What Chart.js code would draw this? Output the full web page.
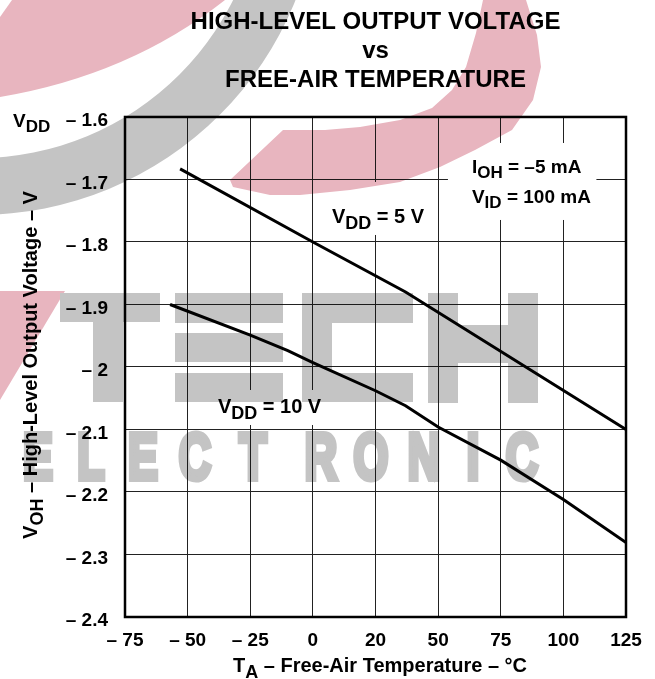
<!DOCTYPE html>
<html>
<head>
<meta charset="utf-8">
<script src="https://cdn.jsdelivr.net/npm/chart.js@4.4.0/dist/chart.umd.min.js"></script>
<style>
    html, body { margin: 0; padding: 0; background: #fff; }
    #wrap { width: 655px; height: 679px; }
</style>
</head>
<body>
<div id="wrap"><canvas id="vohChart" width="655" height="679"></canvas></div>
<script>
// Curve readings (temperature in °C, VOH in V relative to VDD)
const vdd5Temp = [-53, 0, 37, 125];
const vdd5Voh = [-1.683, -1.8, -1.88, -2.1];
const vdd10Temp = [-57, -25, -10, 0, 25, 37, 50, 75, 100, 125];
const vdd10Voh = [-1.9, -1.949, -1.974, -1.993, -2.038, -2.062, -2.096, -2.149, -2.212, -2.281];

// Tick labels as printed (the 25 °C line is labelled "20" in the original)
const xTickLabels = ['– 75', '– 50', '– 25', '0', '20', '50', '75', '100', '125'];
const yTickLabels = ['– 2.4', '– 2.3', '– 2.2', '– 2.1', '– 2', '– 1.9', '– 1.8', '– 1.7', '– 1.6'];

const FONT = 'Liberation Sans, Arial, Helvetica, sans-serif';
const PINK = 'rgb(232,181,191)';
const GRAY = 'rgb(196,196,196)';

// Text notes inside the plot, anchored in data units
const notes = [
    { parts: [['V'], ['DD', true], [' = 5 V']], at: [7.6, -1.7696], size: 20, box: [7, 41, 6, 12] },
    { parts: [['V'], ['DD', true], [' = 10 V']], at: [-37.9, -2.0736], size: 20, box: [8, 23, 7, 12] },
    { parts: [['I'], ['OH', true], [' = –5 mA']], at: [63.5, -1.6896], size: 19, box: [24, 30, 15, 17] },
    { parts: [['V'], ['ID', true], [' = 100 mA']], at: [63.5, -1.7376], size: 19, box: [24, 18, 7, 17] }
];

function toPoints(xs, ys) {
    return xs.map((x, i) => ({ x: x, y: ys[i] }));
}

// Draw text with subscript pieces
function drawRich(ctx, parts, x, y, size, align) {
    const subSize = size - 2;
    const widths = parts.map(([t, sub]) => {
        ctx.font = `bold ${sub ? subSize : size}px ${FONT}`;
        return ctx.measureText(t).width;
    });
    const total = widths.reduce((a, b) => a + b, 0);
    let cx = align === 'center' ? x - total / 2 : x;
    ctx.textAlign = 'left';
    ctx.textBaseline = 'alphabetic';
    parts.forEach(([t, sub], i) => {
        ctx.font = `bold ${sub ? subSize : size}px ${FONT}`;
        ctx.fillText(t, cx, y + (sub ? size * 0.28 : 0));
        cx += widths[i];
    });
    return total;
}

function measureRich(ctx, parts, size) {
    return parts.reduce((w, [t, sub]) => {
        ctx.font = `bold ${sub ? size - 2 : size}px ${FONT}`;
        return w + ctx.measureText(t).width;
    }, 0);
}

// Background logo of the source site, painted once on its own layer
function buildWatermark(w, h) {
    const layer = document.createElement('canvas');
    layer.width = w;
    layer.height = h;
    const ctx = layer.getContext('2d');

    // gray swoosh
    ctx.fillStyle = GRAY;
    ctx.beginPath();
    ctx.arc(-22, -127, 342, 0, Math.PI * 2);
    ctx.arc(-22, -127, 285, 0, Math.PI * 2, true);
    ctx.fill();

    // pink top-left band
    ctx.fillStyle = PINK;
    ctx.beginPath();
    ctx.moveTo(0, 17);
    ctx.lineTo(0, 97);
    ctx.quadraticCurveTo(130, 75, 225, 0);
    ctx.lineTo(12, 0);
    ctx.closePath();
    ctx.fill();

    // pink ring around the title
    const inner = [[483, 0], [476, 33], [466, 67], [452, 90], [432, 108], [400, 120], [360, 127], [325, 130], [283, 130]];
    const outer = [[233, 187], [270, 195], [300, 195], [350, 190], [400, 182], [440, 167], [475, 150], [512, 130], [533, 100], [541, 67], [537, 35], [526, 0]];
    ctx.beginPath();
    inner.forEach(([x, y], i) => i ? ctx.lineTo(x, y) : ctx.moveTo(x, y));
    ctx.lineTo(230, 180);
    outer.forEach(([x, y]) => ctx.lineTo(x, y));
    ctx.closePath();
    ctx.fill();

    // pink wedge of the T
    ctx.beginPath();
    ctx.moveTo(0, 291);
    ctx.lineTo(65, 291);
    ctx.lineTo(0, 400);
    ctx.closePath();
    ctx.fill();

    // TECH blocks
    ctx.fillStyle = GRAY;
    const blocks = [
        [60, 293, 100, 29], [93, 293, 30, 109],
        [175, 293, 108, 30], [175, 333, 108, 29], [175, 373, 108, 29],
        [302, 293, 111, 30], [302, 293, 30, 109], [302, 373, 111, 29],
        [428, 293, 30, 110], [508, 293, 30, 110], [458, 325, 50, 38]
    ];
    blocks.forEach(b => ctx.fillRect(b[0], b[1], b[2], b[3]));

    // ELECTRONIC
    const letters = 'ELECTRONIC'.split('');
    const centers = [38, 91, 143, 195, 253, 321, 371, 424, 473, 522];
    ctx.font = `bold 64px ${FONT}`;
    ctx.textAlign = 'center';
    ctx.textBaseline = 'alphabetic';
    ctx.strokeStyle = GRAY;
    ctx.lineWidth = 6;
    ctx.lineJoin = 'miter';
    letters.forEach((ch, i) => {
        ctx.save();
        ctx.translate(centers[i], 479);
        ctx.scale(0.7, 1);
        ctx.fillText(ch, 0, 0);
        ctx.strokeText(ch, 0, 0);
        ctx.restore();
    });
    return layer;
}

let watermark = null;

const decorPlugin = {
    id: 'decor',
    beforeDraw(chart) {
        const c = chart.ctx;
        c.save();
        c.fillStyle = '#fff';
        c.fillRect(0, 0, chart.width, chart.height);
        c.restore();
    },
    afterDraw(chart) {
        const c = chart.ctx;
        const area = chart.chartArea;
        const xs = chart.scales.x;
        const ys = chart.scales.y;

        c.save();
        // plot frame
        c.strokeStyle = '#000';
        c.lineWidth = 2.5;
        c.strokeRect(area.left, area.top, area.right - area.left, area.bottom - area.top);

        // curve labels on white patches
        notes.forEach(n => {
            const px = xs.getPixelForValue(n.at[0]);
            const py = ys.getPixelForValue(n.at[1]);
            const w = measureRich(c, n.parts, n.size);
            c.fillStyle = '#fff';
            c.fillRect(px - n.box[0], py - n.box[1], w + n.box[0] + n.box[2], n.box[1] + n.box[3]);
        });
        c.fillStyle = '#000';
        notes.forEach(n => {
            const px = xs.getPixelForValue(n.at[0]);
            const py = ys.getPixelForValue(n.at[1]);
            drawRich(c, n.parts, px, py, n.size, 'left');
        });

        // VDD prefix on the top tick
        drawRich(c, [['V'], ['DD', true]], 13, area.top + 10, 19, 'left');

        // axis titles
        drawRich(c, [['T'], ['A', true], [' – Free-Air Temperature – °C']], 380, 672, 20, 'center');
        c.save();
        c.translate(37, (area.top + area.bottom) / 2 - 2);
        c.rotate(-Math.PI / 2);
        drawRich(c, [['V'], ['OH', true], [' – High-Level Output Voltage – V']], 0, 0, 20, 'center');
        c.restore();

        // logo layer blended like the scanned page
        if (!watermark) watermark = buildWatermark(chart.width, chart.height);
        c.globalCompositeOperation = 'multiply';
        c.drawImage(watermark, 0, 0);
        c.restore();
    }
};

const ctx = document.getElementById('vohChart');
const chart = new Chart(ctx, {
    type: 'scatter',
    data: {
        datasets: [
            {
                label: 'VDD = 5 V',
                data: toPoints(vdd5Temp, vdd5Voh),
                showLine: true,
                borderColor: '#000',
                borderWidth: 3,
                pointRadius: 0,
                tension: 0
            },
            {
                label: 'VDD = 10 V',
                data: toPoints(vdd10Temp, vdd10Voh),
                showLine: true,
                borderColor: '#000',
                borderWidth: 3,
                pointRadius: 0,
                tension: 0
            }
        ]
    },
    options: {
        responsive: false,
        animation: false,
        layout: { padding: { top: 0, right: 29, bottom: 0, left: 0 } },
        plugins: {
            legend: { display: false },
            tooltip: { enabled: false },
            title: {
                display: true,
                fullSize: false,
                text: ['HIGH-LEVEL OUTPUT VOLTAGE', 'vs', 'FREE-AIR TEMPERATURE'],
                color: '#000',
                font: { family: FONT, size: 24, weight: 'bold', lineHeight: 1.208 },
                padding: { top: 8, bottom: 22 }
            }
        },
        scales: {
            x: {
                type: 'linear',
                min: -75,
                max: 125,
                afterFit: s => { s.height = 62; },
                border: { display: false },
                grid: { color: '#222', lineWidth: 1, drawTicks: false },
                ticks: {
                    stepSize: 25,
                    autoSkip: false,
                    maxRotation: 0,
                    padding: 12,
                    color: '#000',
                    font: { family: FONT, size: 19, weight: 'bold' },
                    callback: (v, i) => xTickLabels[i]
                }
            },
            y: {
                type: 'linear',
                min: -2.4,
                max: -1.6,
                afterFit: s => { s.width = 125; },
                border: { display: false },
                grid: { color: '#222', lineWidth: 1, drawTicks: false },
                ticks: {
                    stepSize: 0.1,
                    autoSkip: false,
                    padding: 17,
                    labelOffset: 4,
                    color: '#000',
                    font: { family: FONT, size: 19, weight: 'bold' },
                    callback: (v, i) => yTickLabels[i]
                }
            }
        }
    },
    plugins: [decorPlugin]
});
</script>
</body>
</html>
